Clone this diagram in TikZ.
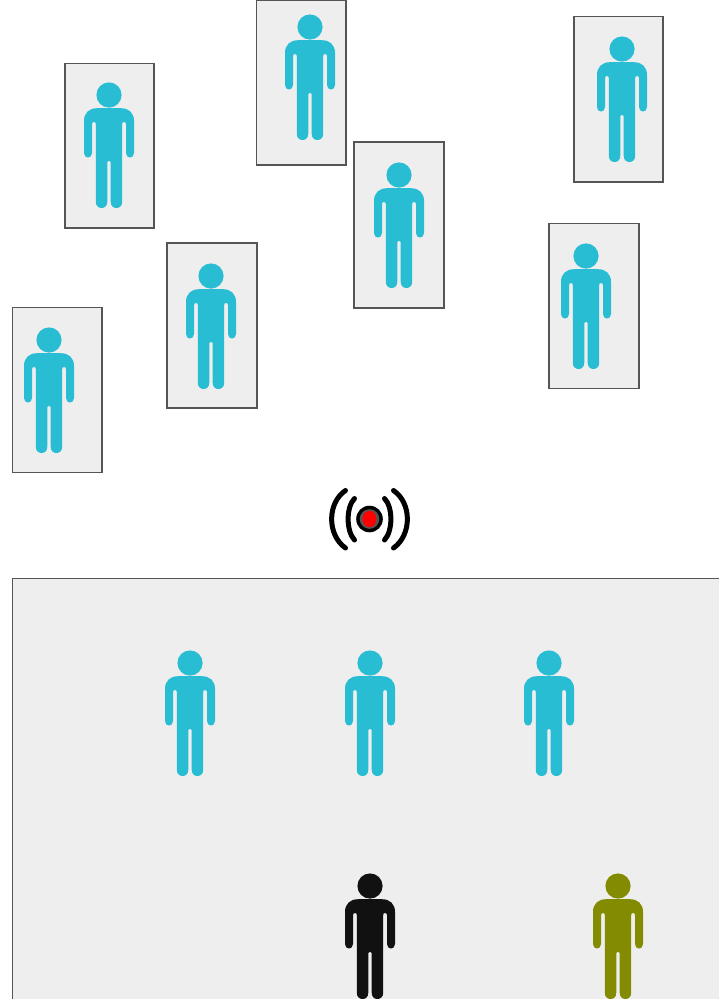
\documentclass[tikz,border=0pt]{standalone}
\definecolor{teal1}{HTML}{29BDD3}
\definecolor{olive1}{HTML}{838C00}
\definecolor{ink1}{HTML}{111111}
\definecolor{panel}{HTML}{EEEEEE}
\definecolor{edge}{HTML}{555555}
\tikzset{
  x=1pt,y=-1pt,
  panelbox/.style={draw=edge,fill=panel,line width=1.6pt},
  wave/.style={draw=black,line width=5pt,line cap=round},
  person/.pic={
    \fill[pic actions] (0,0) circle[radius=12.6];
    \fill[pic actions] (-12,13.2) -- (12,13.2)
      .. controls (20,13.2) and (25,18) .. (25,26)
      -- (25,58) .. controls (25,64) and (17,64) .. (17,58)
      -- (17,29) .. controls (17,27.5) and (16,27) .. (15,27)
      .. controls (14,27) and (13.2,27.5) .. (13.2,29)
      -- (13.2,106.5) .. controls (13.2,111) and (10.5,113) .. (7.4,113)
      .. controls (4.3,113) and (1.7,111) .. (1.7,106.5)
      -- (1.7,67) .. controls (1.7,65.2) and (-1.7,65.2) .. (-1.7,67)
      -- (-1.7,106.5) .. controls (-1.7,111) and (-4.3,113) .. (-7.4,113)
      .. controls (-10.5,113) and (-13.2,111) .. (-13.2,106.5)
      -- (-13.2,29) .. controls (-13.2,27.5) and (-14,27) .. (-15,27)
      .. controls (-16,27) and (-17,27.5) .. (-17,29)
      -- (-17,58) .. controls (-17,64) and (-25,64) .. (-25,58)
      -- (-25,26) .. controls (-25,18) and (-20,13.2) .. (-12,13.2) -- cycle;
  }
}
\begin{document}
\begin{tikzpicture}
\useasboundingbox (0,0) rectangle (719,999);
\begin{scope}
\clip (0,0) rectangle (719,999);
\draw[panelbox] (65,63.5) rectangle (154,228);
\draw[panelbox] (256.5,0) rectangle (346,165);
\draw[panelbox] (574,16.5) rectangle (663,182);
\draw[panelbox] (354,142) rectangle (444,308);
\draw[panelbox] (549,223.5) rectangle (639,388.5);
\draw[panelbox] (167,243) rectangle (257,408);
\draw[panelbox] (12.5,307.5) rectangle (102,472.5);
\draw[panelbox] (12.5,578.5) rectangle (725,1005);
\path (109,95) pic[fill=teal1] {person};
\path (310,27) pic[fill=teal1] {person};
\path (622,49) pic[fill=teal1] {person};
\path (399,175) pic[fill=teal1] {person};
\path (586,256) pic[fill=teal1] {person};
\path (211,276) pic[fill=teal1] {person};
\path (49,340) pic[fill=teal1] {person};
\path (190,663) pic[fill=teal1] {person};
\path (370,663) pic[fill=teal1] {person};
\path (549,663) pic[fill=teal1] {person};
\path (370,886) pic[fill=ink1] {person};
\path (618,886) pic[fill=olive1] {person};
\end{scope}
% signal
\fill[black] (369.5,519) circle[radius=13.3];
\fill[edge] (369.5,519) circle[radius=9.8];
\fill[red] (369.5,519) ellipse[x radius=7,y radius=8.2];
\draw[wave] (354.5,498.5) .. controls (346,507) and (346,531) .. (354.5,540);
\draw[wave] (384.5,498.5) .. controls (393,507) and (393,531) .. (384.5,540);
\draw[wave] (345.5,490.5) .. controls (327,503) and (327,535) .. (345.5,548);
\draw[wave] (393.5,490.5) .. controls (412,503) and (412,535) .. (393.5,548);
\end{tikzpicture}
\end{document}
